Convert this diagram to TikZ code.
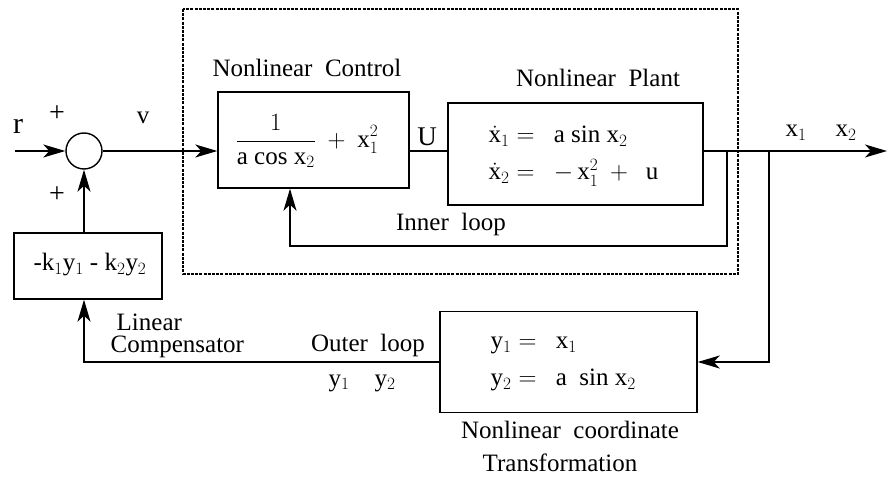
\documentclass[tikz,border=0pt]{standalone}
\usepackage{fontspec}
\setmainfont{Liberation Serif}
\usetikzlibrary{arrows.meta}
\DeclareMathSizes{25}{25}{19}{15}
\newcommand{\rx}{\mathrm{x}}
\newcommand{\ry}{\mathrm{y}}
\begin{document}
\begin{tikzpicture}[x=1pt,y=-1pt,
  line width=1.4pt,
  lbl/.style={inner sep=0pt, font=\fontsize{25}{29}\selectfont},
  blk/.style={draw, line width=1.4pt, inner sep=0pt},
  arr/.style={-{Stealth[length=22pt,width=13pt,inset=6pt]}},
  dashbox/.style={draw, line width=1.1pt, dash pattern=on 3pt off 1.2pt}]
\useasboundingbox (0,0) rectangle (887,478);

% dashed enclosure
\draw[dashbox] (183,9) rectangle (738,274);

% blocks
\node[blk, circle, minimum size=36pt] (sum) at (84,151) {};
\node[blk, minimum width=191pt, minimum height=96pt] (ctrl) at (313.5,140) {};
\node[blk, minimum width=255pt, minimum height=102pt] (plant) at (575.5,154) {};
\node[blk, minimum width=257pt, minimum height=101pt] (coord) at (568.5,362) {};
\node[blk, minimum width=148pt, minimum height=66pt] (comp) at (88,266) {};

% block contents
\node[lbl] (ctrltxt) at (307,141) {$\displaystyle\frac{1}{\mathrm{a\ cos\ x}_2}\ +\ \rx_1^2$};
\node[lbl, anchor=west, align=left] (planttxt) at (488,156)
  {$\dot{\rx}_1 =\ \ \mathrm{a\ sin\ x}_2$\\[8pt]$\dot{\rx}_2 =\ \ -\,\rx_1^2\ +\ \ \mathrm{u}$};
\node[lbl, anchor=west, align=left] (coordtxt) at (490,364)
  {$\ry_1 =\ \ \rx_1$\\[8pt]$\ry_2 =\ \ \mathrm{a\ \ sin\ x}_2$};
\node[lbl] (comptxt) at (90,265) {-k$_1$y$_1$ - k$_2$y$_2$};

% coordinates
\coordinate (in) at (15,151);
\coordinate (out) at (887,151);
\coordinate (ib) at (727,151);
\coordinate (ic) at (290,246);
\coordinate (ob) at (769,151);

% connectors
\draw[arr] (in) -- (sum.west);
\draw[arr] (sum.east) -- (ctrl.west |- sum.east);
\draw (ctrl.east |- sum.east) -- (plant.west |- sum.east);
\draw[arr] (plant.east |- sum.east) -- (out);
\draw[arr] (ib) |- (ic) -- (ctrl.south -| ic);
\draw[arr] (ob) |- (coord.east);
\draw[arr] (coord.west) -| (sum |- comp.south);
\draw[arr] (sum |- comp.north) -- (sum.south);

% labels
\node[lbl, font=\fontsize{30}{34}\selectfont] (lr) at (18,126) {r};
\node[lbl, font=\fontsize{28}{32}\selectfont] (lp1) at (57,114) {+};
\node[lbl, font=\fontsize{28}{32}\selectfont] (lp2) at (57,195) {+};
\node[lbl] (lv) at (143,118) {v};
\node[lbl] (lnc) at (307,68) {Nonlinear\ \ Control};
\node[lbl] (lnp) at (598,78) {Nonlinear\ \ Plant};
\node[lbl, font=\fontsize{27}{31}\selectfont] (lu) at (427,137) {U};
\node[lbl] (lx1) at (796,133) {$\rx_1$};
\node[lbl] (lx2) at (846,133) {$\rx_2$};
\node[lbl] (lin) at (451,224) {Inner\ \ loop};
\node[lbl, anchor=west] (llin) at (116,322) {Linear};
\node[lbl, anchor=west] (lcomp) at (110,347) {Compensator};
\node[lbl] (lout) at (368,345) {Outer\ \ loop};
\node[lbl] (ly) at (362,383) {$\ry_1\quad\ry_2$};
\node[lbl] (lnct) at (570,430) {Nonlinear\ \ coordinate};
\node[lbl] (ltr) at (560,463) {Transformation};
\end{tikzpicture}
\end{document}
